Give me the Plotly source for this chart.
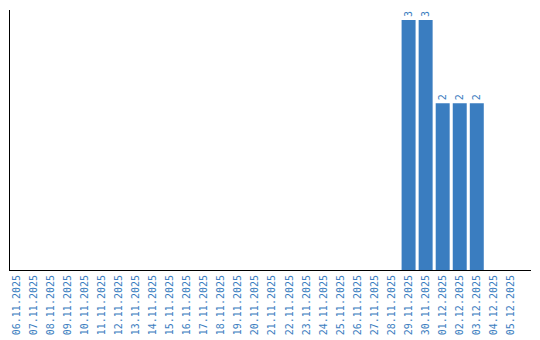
import plotly.graph_objects as go

dates = ["06.11.2025","07.11.2025","08.11.2025","09.11.2025","10.11.2025","11.11.2025",
         "12.11.2025","13.11.2025","14.11.2025","15.11.2025","16.11.2025","17.11.2025",
         "18.11.2025","19.11.2025","20.11.2025","21.11.2025","22.11.2025","23.11.2025",
         "24.11.2025","25.11.2025","26.11.2025","27.11.2025","28.11.2025","29.11.2025",
         "30.11.2025","01.12.2025","02.12.2025","03.12.2025","04.12.2025","05.12.2025"]
counts = [0]*23 + [3, 3, 2, 2, 2, 0, 0]
labels = [str(v) if v > 0 else "" for v in counts]

blue = "#3a7dc0"
fig = go.Figure(go.Bar(
    x=dates, y=counts, text=labels, textposition="outside", textangle=-90,
    constraintext="none", cliponaxis=False,
    marker=dict(color=blue, line=dict(width=0)),
    textfont=dict(family="DejaVu Sans Mono", size=10, color=blue),
))
fig.update_layout(
    width=540, height=340, margin=dict(l=10, r=9, t=10, b=70),
    paper_bgcolor="white", plot_bgcolor="white", bargap=0.18, showlegend=False,
    xaxis=dict(type="category", range=[-0.38, 30.18], tickangle=-90, showgrid=False,
               showline=True, linecolor="black", linewidth=1, ticks="", automargin=False,
               tickfont=dict(family="DejaVu Sans Mono", size=10, color=blue)),
    yaxis=dict(range=[0, 3.12], showgrid=False, showline=True, linecolor="black",
               linewidth=1, showticklabels=False, ticks="", zeroline=False,
               automargin=False),
)
fig.write_html("out.html")
